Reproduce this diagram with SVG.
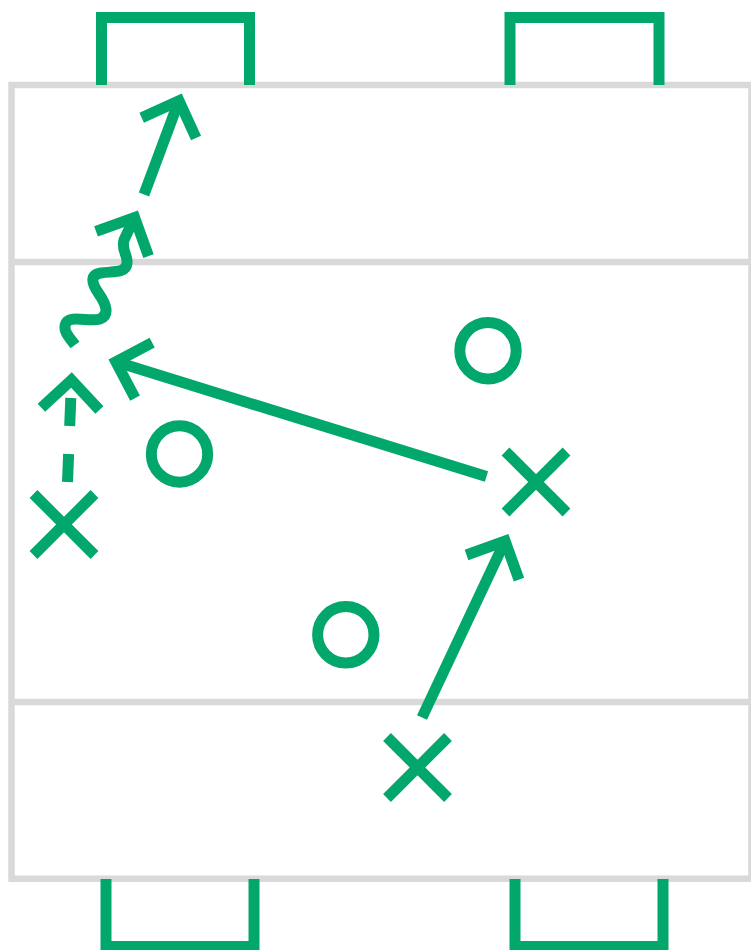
<svg xmlns="http://www.w3.org/2000/svg" width="751" height="950" viewBox="0 0 751 950">
<style>
.field{fill:none;stroke:#d9d9d9;stroke-width:6.5}
.g{fill:none;stroke:#02a76b;stroke-width:11;stroke-linejoin:miter;stroke-linecap:butt}
</style>
<defs>
<marker id="head" markerUnits="userSpaceOnUse" orient="auto" refX="0" refY="0" markerWidth="80" markerHeight="80" viewBox="-40 -40 80 80" overflow="visible">
<path d="M-29,-29 L0,0 L-29,29" fill="none" stroke="#02a76b" stroke-width="11" stroke-linejoin="miter"/>
</marker>
</defs>
<rect width="751" height="950" fill="#ffffff"/>
<g id="field">
<rect class="field" x="11.5" y="85" width="740" height="793.7"/>
<line class="field" x1="11.5" y1="262" x2="751" y2="262"/>
<line class="field" x1="11.5" y1="702" x2="751" y2="702"/>
</g>
<g id="goal-top-left"><path class="g" d="M101.5,85 V17.5 H249.5 V85"/></g>
<g id="goal-top-right"><path class="g" d="M510,85 V17.5 H659 V85"/></g>
<g id="goal-bottom-left"><path class="g" d="M106,879 V946.5 H254 V879"/></g>
<g id="goal-bottom-right"><path class="g" d="M515,879 V946.5 H663 V879"/></g>
<g id="o1"><circle class="g" cx="488" cy="350.7" r="28.2"/></g>
<g id="o2"><circle class="g" cx="179.5" cy="454" r="28.2"/></g>
<g id="o3"><circle class="g" cx="345.8" cy="634.8" r="28.2"/></g>
<g id="x1"><path class="g" d="M33.5,494 L94.5,555 M94.5,494 L33.5,555"/></g>
<g id="x2"><path class="g" d="M505.5,451.5 L566.5,512.5 M566.5,451.5 L505.5,512.5"/></g>
<g id="x3"><path class="g" d="M387,737 L448,798 M448,737 L387,798"/></g>
<g id="connectors">
<path class="g" d="M486.5,476.5 L115.9,361.8" marker-end="url(#head)"/>
<path class="g" d="M422,717.5 L505.1,541.1" marker-end="url(#head)"/>
<path class="g" d="M144,194.5 L179,100.7" marker-end="url(#head)"/>
<path class="g" d="M75,345 C70,338 62,331 66,323 C70,315 90,322 100,319 C110,315 106,304 99,294 C92,284 89,275 101,273 C112,271 126,274 127,263 C128,255 121,250 124,240 L134.6,217.5" marker-end="url(#head)"/>
<path class="g" d="M67.5,482 L70.8,398" stroke-dasharray="28 28"/>
<path class="g" d="M70.8,398 L71.5,379.9" stroke-opacity="0" marker-end="url(#head)"/>
</g>
</svg>
